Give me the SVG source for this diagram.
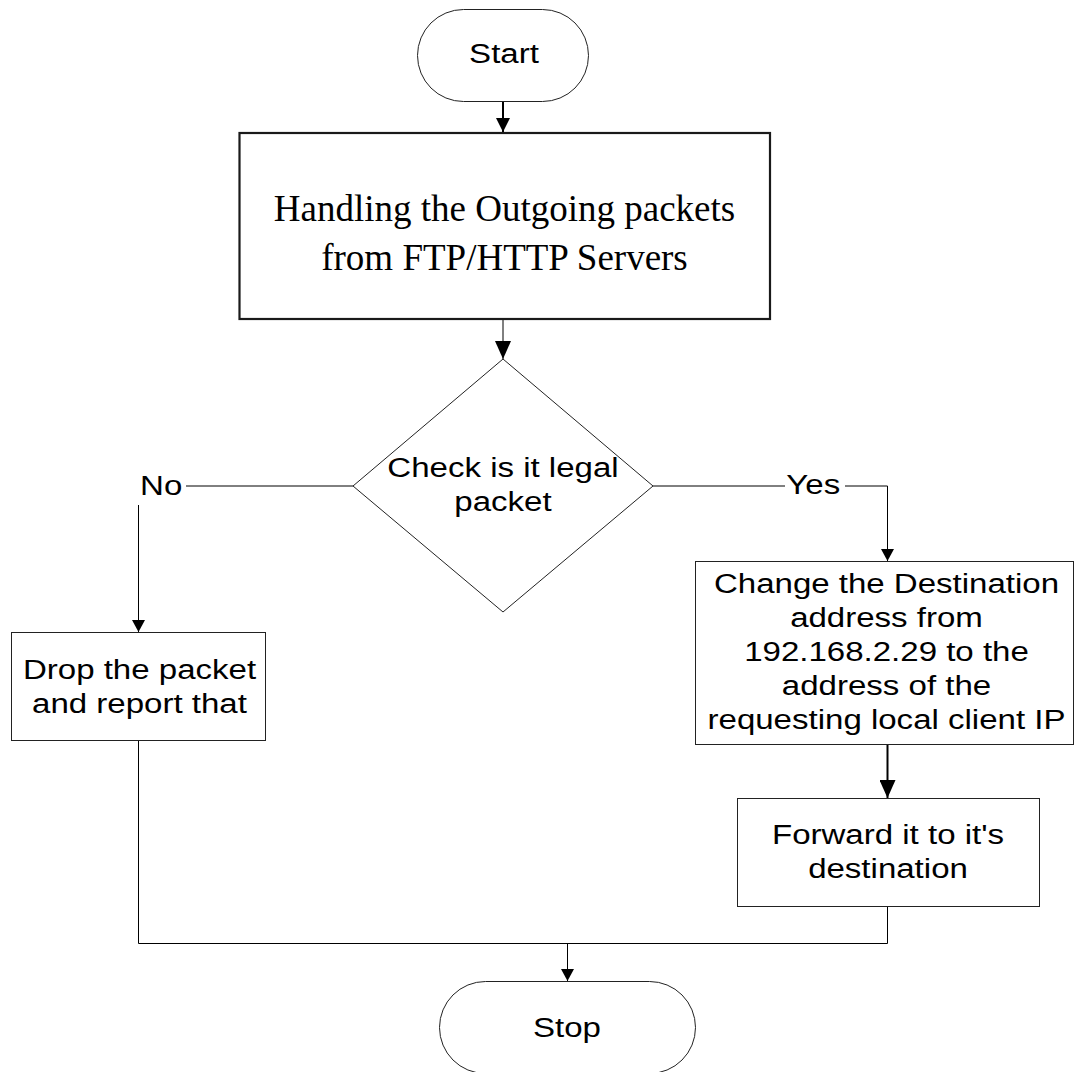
<svg xmlns="http://www.w3.org/2000/svg" width="1074" height="1072" viewBox="0 0 1074 1072">
  <style>
    .shape { fill: #ffffff; stroke: #222222; stroke-width: 1; }
    .main { fill: #ffffff; stroke: #1a1a1a; stroke-width: 2.2; }
    .line { fill: none; stroke: #000000; stroke-width: 1; }
    .thick { fill: none; stroke: #000000; stroke-width: 2; }
    .lbl { font-family: "Liberation Sans", Arial, sans-serif; font-size: 28px; fill: #000000; text-anchor: middle; }
    .serif { font-family: "Liberation Serif", "Times New Roman", serif; font-size: 37px; fill: #000000; text-anchor: middle; }
  </style>
  <defs>
    <marker id="arrowBig" markerUnits="userSpaceOnUse" markerWidth="18" markerHeight="16" refX="18" refY="8" orient="auto">
      <path d="M0,0 L18,8 L0,16 z" fill="#000000"/>
    </marker>
    <marker id="arrowMid" markerUnits="userSpaceOnUse" markerWidth="14" markerHeight="14" refX="14" refY="7" orient="auto">
      <path d="M0,0 L14,7 L0,14 z" fill="#000000"/>
    </marker>
    <marker id="arrowSmall" markerUnits="userSpaceOnUse" markerWidth="12" markerHeight="13" refX="12" refY="6.5" orient="auto">
      <path d="M0,0 L12,6.5 L0,13 z" fill="#000000"/>
    </marker>
  </defs>

  <rect width="1074" height="1072" fill="#ffffff"/>

  <!-- flow lines; the sans labels are drawn slightly widened (scale 1.18 horizontally) -->
  <g id="connectors">
    <path class="thick" d="M503,102 V132" marker-end="url(#arrowMid)"/>
    <path class="line" d="M503,320 V359" stroke-width="1.5" marker-end="url(#arrowBig)"/>
    <path class="line" d="M353,486 H186"/>
    <path class="line" d="M138.5,505 V632" marker-end="url(#arrowSmall)"/>
    <path class="line" d="M653,486 H785"/>
    <path class="line" d="M845,486 H887.5 V561" marker-end="url(#arrowSmall)"/>
    <path class="thick" d="M887.5,745 V798" marker-end="url(#arrowBig)"/>
    <path class="line" d="M138.5,741 V943.5 H887.5 V907"/>
    <path class="line" d="M567.5,943.5 V981" marker-end="url(#arrowSmall)"/>
    <g class="lbl" transform="translate(161.2 0) scale(1.18 1)">
      <text x="0" y="495">No</text>
    </g>
    <g class="lbl" transform="translate(813.3 0) scale(1.18 1)">
      <text x="0" y="494">Yes</text>
    </g>
  </g>

  <g id="start">
    <rect class="shape" x="417.5" y="9.5" width="171" height="92" rx="46" ry="46"/>
    <g class="lbl" transform="translate(504 0) scale(1.18 1)">
      <text x="0" y="63.5">Start</text>
    </g>
  </g>

  <g id="handle-outgoing">
    <rect class="main" x="239.5" y="133" width="530.5" height="186"/>
    <text class="serif" x="504.5" y="221">Handling the Outgoing packets</text>
    <text class="serif" x="504.5" y="270">from FTP/HTTP Servers</text>
  </g>

  <g id="check-legal">
    <polygon class="shape" points="503,359 653,486 503,612 353,486"/>
    <g class="lbl" transform="translate(503 0) scale(1.18 1)">
      <text x="0" y="477">Check is it legal</text>
      <text x="0" y="511">packet</text>
    </g>
  </g>

  <g id="drop">
    <rect class="shape" x="11.5" y="632.5" width="254" height="108"/>
    <g class="lbl" transform="translate(139.5 0) scale(1.18 1)">
      <text x="0" y="679.5">Drop the packet</text>
      <text x="0" y="713.5">and report that</text>
    </g>
  </g>

  <g id="change-destination">
    <rect class="shape" x="695.5" y="561.5" width="378" height="183"/>
    <g class="lbl" transform="translate(886.5 0) scale(1.18 1)">
      <text x="0" y="593">Change the Destination</text>
      <text x="0" y="627">address from</text>
      <text x="0" y="661">192.168.2.29 to the</text>
      <text x="0" y="695">address of the</text>
      <text x="0" y="729">requesting local client IP</text>
    </g>
  </g>

  <g id="forward">
    <rect class="shape" x="737.5" y="798.5" width="302" height="108"/>
    <g class="lbl" transform="translate(888 0) scale(1.18 1)">
      <text x="0" y="844.5">Forward it to it's</text>
      <text x="0" y="878.5">destination</text>
    </g>
  </g>

  <g id="stop">
    <rect class="shape" x="439.5" y="981.5" width="256" height="92" rx="46" ry="46"/>
    <g class="lbl" transform="translate(567 0) scale(1.18 1)">
      <text x="0" y="1037">Stop</text>
    </g>
  </g>
</svg>
